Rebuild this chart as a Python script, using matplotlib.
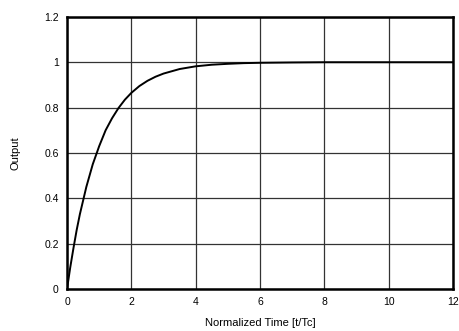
import matplotlib.pyplot as plt

# values
t_vals = [0, 0.1, 0.2, 0.3, 0.4, 0.5, 0.6, 0.7, 0.8, 0.9, 1.0, 1.2, 1.4, 1.6,
          1.8, 2.0, 2.25, 2.5, 2.75, 3.0, 3.5, 4.0, 4.5, 5.0, 5.5, 6.0, 7.0,
          8.0, 9.0, 10.0, 11.0, 12.0]
output = [0, 0.095, 0.18, 0.26, 0.33, 0.39, 0.45, 0.50, 0.55, 0.59, 0.63,
          0.70, 0.753, 0.798, 0.835, 0.865, 0.895, 0.918, 0.936, 0.950, 0.970,
          0.982, 0.989, 0.993, 0.996, 0.9975, 0.999, 1.0, 1.0, 1.0, 1.0, 1.0]

x_ticks = [0, 2, 4, 6, 8, 10, 12]
y_ticks = [0, 0.2, 0.4, 0.6, 0.8, 1.0, 1.2]
y_labels = ["0", "0.2", "0.4", "0.6", "0.8", "1", "1.2"]

plt.rcParams["font.family"] = ["Liberation Sans", "DejaVu Sans"]

fig = plt.figure(figsize=(4.6, 3.31), dpi=100)
ax = fig.add_axes([0.1457, 0.127, 0.8393, 0.822])

ax.plot(t_vals, output, color="black", linewidth=1.4, zorder=3)

ax.set_xlim(0, 12)
ax.set_ylim(0, 1.2)
ax.set_xticks(x_ticks)
ax.set_yticks(y_ticks)
ax.set_yticklabels(y_labels)
ax.tick_params(axis="y", length=0, labelsize=7.5, pad=6)
ax.tick_params(axis="x", length=0, labelsize=7.5, pad=6)
ax.grid(True, color="#333333", linewidth=0.9)
ax.set_axisbelow(True)
for s in ax.spines.values():
    s.set_linewidth(1.8)
    s.set_color("black")
    s.set_zorder(4)

ax.set_xlabel("Normalized Time [t/Tc]", fontsize=8, labelpad=7.5)
ax.set_ylabel("Output", fontsize=8, labelpad=17)

fig.savefig("out.png", dpi=100)
